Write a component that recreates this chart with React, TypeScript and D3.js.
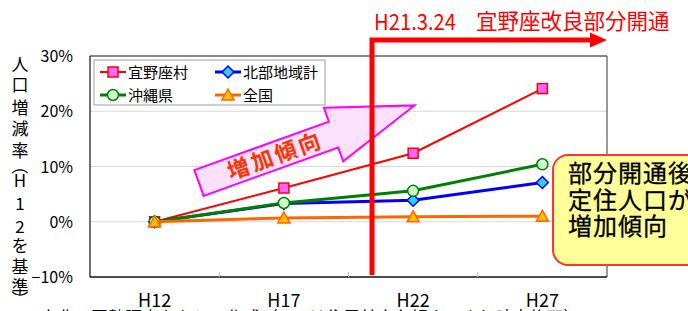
import * as d3 from "d3"

const categories = ["H12", "H17", "H22", "H27"]
const ginoza = [0, 6.1, 12.4, 24.1]
const hokubu = [0, 3.3, 3.9, 7.1]
const okinawa = [0, 3.4, 5.6, 10.4]
const zenkoku = [0, 0.7, 0.9, 1.0]
const yTicks = [-10, 0, 10, 20, 30]
const yTitle = ["人", "口", "増", "減", "率", "（", "H", "1", "2", "を", "基", "準", "）"]
const yTitleStep = [0, 20, 23, 21, 22, 17, 13, 23, 23, 19, 21, 20, 14]
const calloutLines = ["部分開通後、", "定住人口が", "増加傾向"]

const W = 688
const H = 311
const plot = { left: 90, right: 607, top: 56, bottom: 277 }
const JP = "'Noto Sans CJK JP', 'Noto Sans', sans-serif"

type Series = {
  name: string
  values: number[]
  color: string
  fill: string
  width: number
  marker: "square" | "diamond" | "circle" | "triangle"
}

const series: Series[] = [
  { name: "宜野座村", values: ginoza, color: "#ff0000", fill: "#ff66ff", width: 2, marker: "square" },
  { name: "北部地域計", values: hokubu, color: "#0000ff", fill: "#33ccff", width: 3, marker: "diamond" },
  { name: "沖縄県", values: okinawa, color: "#008000", fill: "#ccffcc", width: 3, marker: "circle" },
  { name: "全国", values: zenkoku, color: "#ff6600", fill: "#ffc000", width: 3, marker: "triangle" },
]

function Marker({ s, x, y }: { s: Series; x: number; y: number }) {
  const common = { fill: s.fill, stroke: s.color, strokeWidth: 1.5 }
  if (s.marker === "square") return <rect x={x - 5} y={y - 5} width={10} height={10} {...common} />
  if (s.marker === "diamond")
    return <path d={`M${x},${y - 6}L${x + 6},${y}L${x},${y + 6}L${x - 6},${y}Z`} {...common} />
  if (s.marker === "circle") return <circle cx={x} cy={y} r={5.5} {...common} />
  return <path d={`M${x},${y - 6}L${x + 6},${y + 5}L${x - 6},${y + 5}Z`} {...common} />
}

export default function App() {
  const xBand = d3.scaleBand<string>().domain(categories).range([plot.left, plot.right])
  const x = (c: string) => (xBand(c) as number) + xBand.bandwidth() / 2
  const y = d3.scaleLinear().domain([-10, 30]).range([plot.bottom, plot.top])

  const line = d3
    .line<number>()
    .x((_, i) => x(categories[i]))
    .y((d) => y(d))

  // block arrow "増加傾向", drawn in its own rotated frame
  const arrowPts: [number, number][] = [
    [0, -13.7], [143, -13.7], [143, -28.5], [229, 0], [143, 28.5], [143, 13.7], [0, 13.7],
  ]

  let ty = 63
  const titleY = yTitleStep.map((d) => (ty += d))

  return (
    <svg
      width={W}
      height={H}
      style={{ position: "absolute", left: 0, top: 0, background: "#fff" }}
      fontFamily={JP}
    >
      {/* gridlines */}
      {yTicks.filter((t) => t > -10 && t < 30).map((t) => (
        <line key={t} x1={plot.left} x2={plot.right} y1={y(t)} y2={y(t)} stroke="#d9d9d9" strokeWidth={1} />
      ))}
      {/* plot border */}
      <line x1={plot.left} x2={plot.right} y1={plot.top} y2={plot.top} stroke="#111" strokeWidth={1} />
      <line x1={plot.right} x2={plot.right} y1={plot.top} y2={plot.bottom} stroke="#555" strokeWidth={1.2} />
      <line x1={plot.left} x2={plot.left} y1={plot.top} y2={plot.bottom} stroke="#111" strokeWidth={1.2} />
      <line x1={plot.left} x2={plot.right} y1={plot.bottom} y2={plot.bottom} stroke="#111" strokeWidth={1.5} />
      {categories.slice(1).map((c) => (
        <line key={c} x1={xBand(c)} x2={xBand(c)} y1={plot.bottom - 5} y2={plot.bottom} stroke="#bbb" />
      ))}

      {/* y tick labels */}
      {yTicks.map((t) => (
        <text key={t} x={73} y={y(t) + 6} textAnchor="end" fontSize={16} fill="#000">
          {t < 0 ? `−${Math.abs(t)}%` : `${t}%`}
        </text>
      ))}
      {/* x labels */}
      {categories.map((c) => (
        <text key={c} x={x(c)} y={307} textAnchor="middle" fontSize={18} fill="#000">
          {c}
        </text>
      ))}

      {/* y title, vertical */}
      {yTitle.map((ch, i) => {
        const paren = ch === "（" || ch === "）"
        return (
          <text
            key={i}
            x={20}
            y={titleY[i]}
            textAnchor="middle"
            dominantBaseline="central"
            fontSize={17}
            fill="#000"
            transform={paren ? `rotate(90,20,${titleY[i]})` : undefined}
          >
            {ch}
          </text>
        )
      })}

      {/* source note, cut off at bottom */}
      <text x={40} y={324} fontSize={17} fill="#000">
        出典：国勢調査をもとに作成（H27は住民基本台帳人口より時点修正）
      </text>

      {/* legend */}
      <rect x={94} y={60} width={231} height={45} fill="#fff" stroke="#a0a0a0" />
      {series.map((s, i) => {
        const lx = i % 2 === 0 ? 100 : 215
        const ly = i < 2 ? 72 : 95
        return (
          <g key={s.name}>
            <line x1={lx} x2={lx + 26} y1={ly} y2={ly} stroke={s.color} strokeWidth={s.width} />
            <Marker s={s} x={lx + 13} y={ly} />
            <text x={lx + 28} y={ly + 5.5} fontSize={15} fill="#000">
              {s.name}
            </text>
          </g>
        )
      })}

      {/* pink block arrow */}
      <g transform="translate(199,183) rotate(-19.8)">
        <polygon
          points={arrowPts.map((p) => p.join(",")).join(" ")}
          fill="#fde0fb"
          stroke="#ff00ff"
          strokeWidth={2}
        />
        <text x={81} y={8} textAnchor="middle" fontSize={22} fontWeight="bold" fill="#ff3300" letterSpacing={3}>
          増加傾向
        </text>
      </g>

      {/* series */}
      {series.map((s) => (
        <g key={s.name}>
          <path d={line(s.values) as string} fill="none" stroke={s.color} strokeWidth={s.width} />
          {s.values.map((v, i) => (
            <Marker key={i} s={s} x={x(categories[i])} y={y(v)} />
          ))}
        </g>
      ))}

      {/* opening marker */}
      <path d="M372,275V40H592" fill="none" stroke="#ff0000" strokeWidth={5} />
      <polygon points="590,32.5 607,40 590,47.5" fill="#ff0000" />
      <text x={374} y={30} fontSize={22} fill="#ff0000" textLength={82} lengthAdjust="spacingAndGlyphs">
        H21.3.24
      </text>
      <text x={476} y={29} fontSize={21.5} fill="#ff0000">
        宜野座改良部分開通
      </text>

      {/* callout */}
      <rect x={553} y={155} width={170} height={110} rx={15} fill="#ffff99" stroke="#ff3333" strokeWidth={2} />
      {calloutLines.map((l, i) => (
        <text key={i} x={568} y={182 + i * 26.5} fontSize={24} fill="#000" letterSpacing={1} stroke="#000" strokeWidth={0.3}>
          {l}
        </text>
      ))}
    </svg>
  )
}
